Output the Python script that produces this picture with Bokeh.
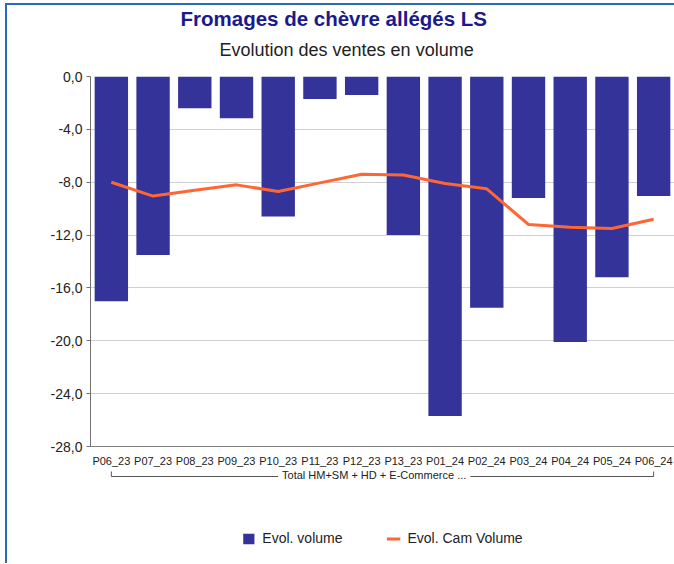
from bokeh.plotting import figure
from bokeh.models import (FactorRange, Range1d, FixedTicker, CustomJSTickFormatter,
                          Title, Legend, LegendItem, ColumnDataSource)
from bokeh.layouts import column
from bokeh.embed import file_html
from bokeh.resources import INLINE
from bokeh.core.properties import value

# ---- data -------------------------------------------------------------
periods = ["P06_23", "P07_23", "P08_23", "P09_23", "P10_23", "P11_23", "P12_23",
           "P13_23", "P01_24", "P02_24", "P03_24", "P04_24", "P05_24", "P06_24"]
evol_volume = [-17.0, -13.5, -2.4, -3.15, -10.6, -1.7, -1.4,
               -12.0, -25.7, -17.5, -9.2, -20.1, -15.2, -9.05]
evol_cam_volume = [-8.0, -9.05, -8.6, -8.2, -8.7, -8.05, -7.4,
                   -7.45, -8.1, -8.5, -11.2, -11.4, -11.5, -10.8]
group_label = "Total HM+SM + HD + E-Commerce ..."
y_ticks = [0, -4, -8, -12, -16, -20, -24, -28]

title_text = "Fromages de chèvre allégés LS"
subtitle_text = "Evolution des ventes en volume"
series_names = ["Evol. volume", "Evol. Cam Volume"]

# ---- style ------------------------------------------------------------
FONT = "Liberation Sans"
BAR = "#333399"
LINE = "#FF6633"
TITLE_COLOR = "#1A1A8C"
FRAME_BLUE = "#2B6CB8"

W = 674
p1 = figure(width=W, height=469,
            x_range=FactorRange(factors=periods),
            y_range=Range1d(min(y_ticks), max(y_ticks)),
            output_backend="svg", toolbar_location=None,
            min_border_left=90, min_border_right=0,
            min_border_top=76, min_border_bottom=22)
p1.border_fill_alpha = 0

# p1.title is the outermost (top) title; the added one sits nearer the frame
p1.title.text = title_text
p1.title.align = "left"
p1.title.offset = 90
try:
    p1.title.standoff = -19.6
except Exception:
    p1.title.standoff = 0
p1.title.text_font = FONT
p1.title.text_font_size = "20.5px"
p1.title.text_font_style = "bold"
p1.title.text_color = TITLE_COLOR
p1.add_layout(Title(text=subtitle_text, align="left", offset=129, standoff=34,
                    text_font=FONT, text_font_size="18px", text_font_style="normal",
                    text_color="#222222"), "above")

src = ColumnDataSource(dict(period=periods, vol=evol_volume, cam=evol_cam_volume))
p1.vbar(x="period", top="vol", width=0.8, source=src, color=BAR, line_color=None)
p1.line(x="period", y="cam", source=src, color=LINE, line_width=3)

p1.outline_line_color = None
p1.xgrid.grid_line_color = None
p1.ygrid.ticker = FixedTicker(ticks=y_ticks)
p1.ygrid.grid_line_color = "#d0d0d0"

xa = p1.xaxis[0]
xa.axis_line_color = "#808080"
xa.major_tick_line_color = None
xa.major_tick_out = 0
xa.major_tick_in = 0
xa.minor_tick_line_color = None
xa.major_label_text_font = FONT
xa.major_label_text_font_size = "11px"
xa.major_label_text_color = "#222222"
xa.major_label_standoff = 8

ya = p1.yaxis[0]
ya.ticker = FixedTicker(ticks=y_ticks)
ya.formatter = CustomJSTickFormatter(code="return tick.toFixed(1).replace('.', ',');")
ya.axis_line_color = "#707070"
ya.major_tick_line_color = "#707070"
ya.major_tick_out = 4
ya.major_tick_in = 0
ya.minor_tick_line_color = None
ya.major_label_standoff = 4
ya.major_label_text_font = FONT
ya.major_label_text_font_size = "14px"
ya.major_label_text_color = "#222222"

# ---- bottom strip: group bracket + legend ----------------------------
H2 = 94
p2 = figure(width=W, height=H2, x_range=p1.x_range, y_range=Range1d(H2, 0),
            output_backend="svg", toolbar_location=None,
            min_border_left=90, min_border_right=0, min_border_top=0, min_border_bottom=0,
            x_axis_location=None, y_axis_location=None)
p2.grid.visible = False
p2.outline_line_color = None
p2.border_fill_alpha = 0
p2.background_fill_alpha = 0

p2.line(x=[periods[0], periods[0], periods[-1], periods[-1]], y=[2, 7, 7, 2],
        color="#555555", line_width=1)
gsrc = ColumnDataSource(dict(x=[(periods[len(periods) // 2 - 1], 0.3)], y=[5], t=[group_label]))
p2.text(x="x", y="y", text="t", source=gsrc, text_align="center", text_baseline="middle",
        text_font=value(FONT), text_font_size="11px", text_color="#222222",
        background_fill_color="white", padding=4)

# legend proxies: same series, drawn outside the strip's visible range
l_bar = p2.vbar(x="period", top=0, bottom=0, width=0.8, source=src, color=BAR, line_color=None)
l_line = p2.line(x="period", y=-1000, source=src, color=LINE, line_width=3)
legend = Legend(items=[LegendItem(label=series_names[0], renderers=[l_bar]),
                       LegendItem(label=series_names[1], renderers=[l_line])],
                orientation="horizontal", location="bottom_center",
                glyph_width=14, glyph_height=13, label_standoff=7, spacing=44,
                padding=4, margin=17, border_line_color=None, background_fill_alpha=0,
                label_text_font=FONT, label_text_font_size="14px",
                label_text_color="#222222")
p2.add_layout(legend, "center")

# chart frame edge (left/top blue rule) painted behind the transparent canvases
rule = f"linear-gradient({FRAME_BLUE}, {FRAME_BLUE})"
layout = column(p1, p2, spacing=0,
                styles={"background-color": "white",
                        "background-image": f"{rule}, {rule}",
                        "background-size": "2px 100%, 100% 2px",
                        "background-position": "5px 3px, 5px 3px",
                        "background-repeat": "no-repeat"})

open("out.html", "w").write(file_html(layout, INLINE))
